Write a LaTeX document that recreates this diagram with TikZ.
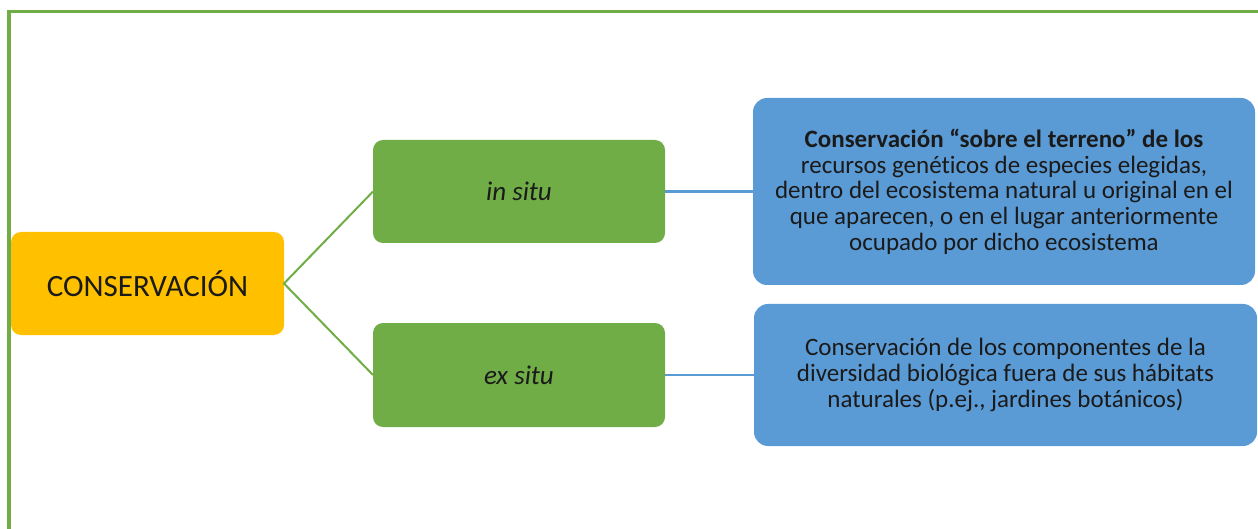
\documentclass[tikz,border=0pt]{standalone}
\usepackage{fontspec}
\setmainfont[Ligatures=NoCommon]{Carlito}
\newfontfamily\thinfont[Ligatures=NoCommon]{Carlito}
\definecolor{cgreen}{HTML}{70AD47}
\definecolor{cblue}{HTML}{5B9BD5}
\definecolor{cyellow}{HTML}{FFC000}
\definecolor{ctext}{HTML}{1A1A1A}
\begin{document}
\begin{tikzpicture}[x=1pt,y=-1pt,
  box/.style={rounded corners=10pt,inner sep=0pt,outer sep=0pt,align=center,text=ctext},
  greenbox/.style={box,fill=cgreen,minimum width=292pt,minimum height=103pt,font=\thinfont\fontsize{27}{30}\selectfont\itshape},
  bluebox/.style={box,fill=cblue,rounded corners=14pt,minimum width=502pt,font=\thinfont\fontsize{25}{25.7}\selectfont},
  gline/.style={draw=cgreen,line width=2pt},
  bline/.style={draw=cblue,line width=2.5pt}]
\useasboundingbox (0,0) rectangle (1258,529);
\draw[cgreen,line width=3pt] (7,11.3) -- (1258,11.3);
\draw[cgreen,line width=4pt] (9,10) -- (9,529);
\node[box,fill=cyellow,minimum width=273pt,minimum height=103pt,font=\thinfont\fontsize{31}{36}\selectfont] (cons) at (147.5,283.5) {CONSERVACIÓN};
\node[greenbox] (insitu) at (519,191.5) {in situ};
\node[greenbox,minimum height=104pt] (exsitu) at (519,375) {ex situ};
\node[bluebox,minimum height=187pt] (def1) at (1004,191.5) {{\bfseries Conservación “sobre el terreno” de los}\\recursos genéticos de especies elegidas,\\dentro del ecosistema natural u original en el\\que aparecen, o en el lugar anteriormente\\ocupado por dicho ecosistema};
\node[bluebox,minimum width=503pt,minimum height=142pt] (def2) at (1005.5,375) {Conservación de los componentes de la\\diversidad biológica fuera de sus hábitats\\naturales (p.ej., jardines botánicos)};
\draw[gline] (insitu.west) -- (cons.east) -- (exsitu.west);
\draw[bline] (insitu.east) -- (def1.west);
\draw[bline] (exsitu.east) -- (def2.west);
\end{tikzpicture}
\end{document}
